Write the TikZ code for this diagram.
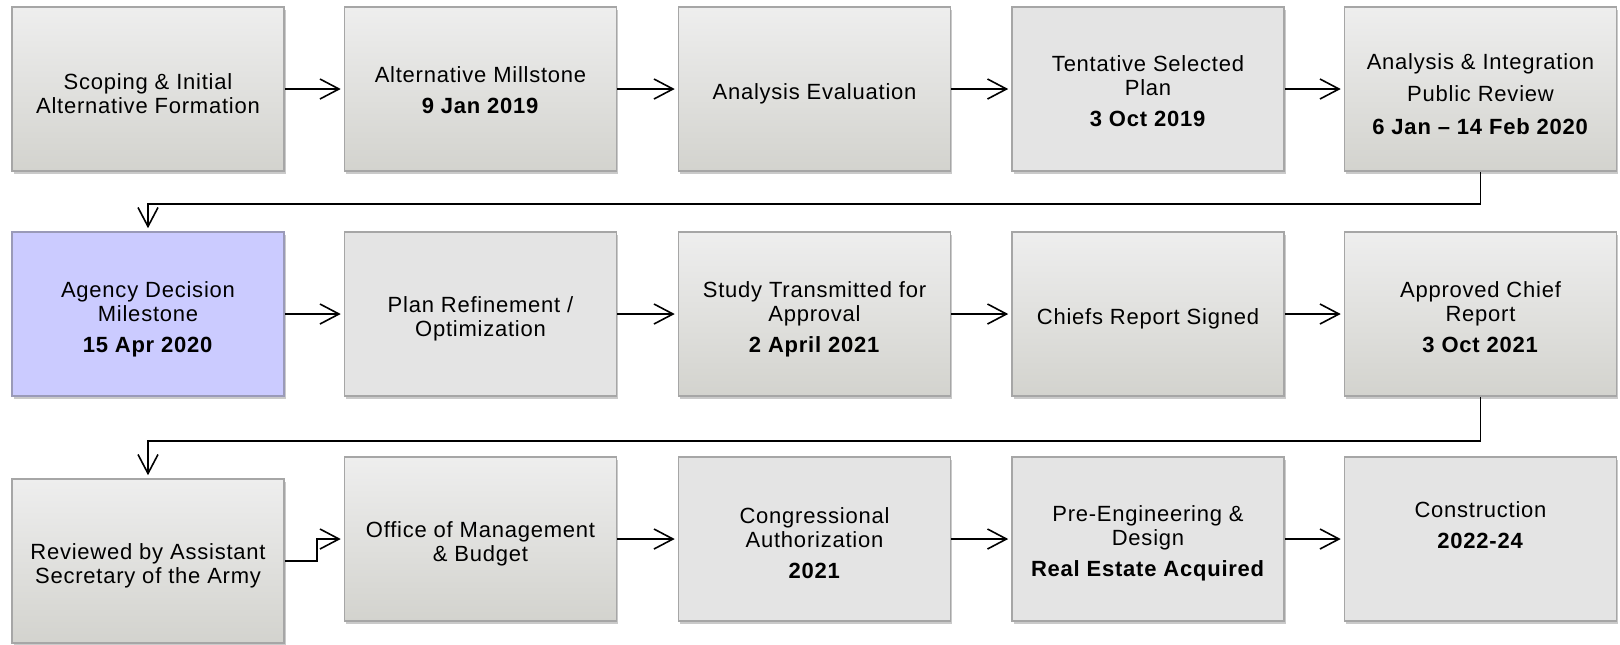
\documentclass[tikz,border=0pt]{standalone}
\usepackage{fontspec}
\setmainfont{Liberation Sans}[LetterSpace=3.5]
\usetikzlibrary{arrows.meta,shadows}
\definecolor{gtop}{HTML}{EEEEEE}
\definecolor{gbot}{HTML}{D3D3CE}
\definecolor{flatc}{HTML}{E4E4E4}
\definecolor{bord}{HTML}{A6A6A6}
\definecolor{lav}{HTML}{CBCBFF}
\definecolor{lavbord}{HTML}{9A9AB8}
\tikzset{
  box/.style={draw=bord, line width=0.8pt, minimum width=136pt, minimum height=82pt,
    inner sep=0pt,
    drop shadow={shadow xshift=0.8pt, shadow yshift=-1.5pt, opacity=0.35, fill=black!60}},
  gradbox/.style={box, top color=gtop, bottom color=gbot},
  flatbox/.style={box, fill=flatc},
  lavbox/.style={box, fill=lav, draw=lavbord},
  lab/.style={align=center, inner sep=0pt, font=\fontsize{11}{12}\selectfont},
  conn/.style={-{Straight Barb[length=9.5pt,width=10pt,line width=0.8pt]}, line width=0.8pt, shorten >=1.5pt}
}
\begin{document}
\begin{tikzpicture}[x=0.5pt,y=-0.5pt]
\useasboundingbox (0,0) rectangle (1620,644);
% row 1 boxes
\node[gradbox] (a1) at (148,89) {};
\node[gradbox] (a2) at (480.5,89) {};
\node[gradbox] (a3) at (814.5,89) {};
\node[flatbox] (a4) at (1148,89) {};
\node[gradbox] (a5) at (1480.5,89) {};
% row 2 boxes
\node[lavbox] (b1) at (148,314) {};
\node[flatbox] (b2) at (480.5,314) {};
\node[gradbox] (b3) at (814.5,314) {};
\node[gradbox] (b4) at (1148,314) {};
\node[gradbox] (b5) at (1480.5,314) {};
% row 3 boxes
\node[gradbox] (c1) at (148,561) {};
\node[gradbox] (c2) at (480.5,539) {};
\node[flatbox] (c3) at (814.5,539) {};
\node[flatbox] (c4) at (1148,539) {};
\node[flatbox] (c5) at (1480.5,539) {};
% texts
\node[lab] (a1t) at ([yshift=-2.5pt]a1.center) {Scoping \& Initial\\Alternative Formation};
\node[lab] (a2t) at ([yshift=-0.5pt]a2.center) {Alternative Millstone\\[3.5pt]\textbf{9 Jan 2019}};
\node[lab] (a3t) at ([yshift=-2.5pt]a3.center) {Analysis Evaluation};
\node[lab] (a4t) at ([yshift=-1pt]a4.center) {Tentative Selected\\Plan\\[3.5pt]\textbf{3 Oct 2019}};
\node[lab] (a5t) at ([yshift=-2.5pt]a5.center) {Analysis \& Integration\\[4pt]Public Review\\[4.5pt]\textbf{6 Jan -- 14 Feb 2020}};
\node[lab] (b1t) at ([yshift=-2.5pt]b1.center) {Agency Decision\\Milestone\\[3.5pt]\textbf{15 Apr 2020}};
\node[lab] (b2t) at ([yshift=-2.5pt]b2.center) {Plan Refinement /\\Optimization};
\node[lab] (b3t) at ([yshift=-2.5pt]b3.center) {Study Transmitted for\\Approval\\[3.5pt]\textbf{2 April 2021}};
\node[lab] (b4t) at ([yshift=-2.5pt]b4.center) {Chiefs Report Signed};
\node[lab] (b5t) at ([yshift=-1.5pt]b5.center) {Approved Chief\\Report\\[3.5pt]\textbf{3 Oct 2021}};
\node[lab] (c1t) at ([yshift=-2.5pt]c1.center) {Reviewed by Assistant\\Secretary of the Army};
\node[lab] (c2t) at ([yshift=-2.5pt]c2.center) {Office of Management\\\& Budget};
\node[lab] (c3t) at ([yshift=-2pt]c3.center) {Congressional\\Authorization\\[3.5pt]\textbf{2021}};
\node[lab] (c4t) at ([yshift=-2pt]c4.center) {Pre-Engineering \&\\Design\\[3.5pt]\textbf{Real Estate Acquired}};
\node[lab] (c5t) at ([yshift=7pt]c5.center) {Construction\\[3.5pt]\textbf{2022-24}};
% connectors
\draw[conn] (a1) -- (a2);
\draw[conn] (a2) -- (a3);
\draw[conn] (a3) -- (a4);
\draw[conn] (a4) -- (a5);
\draw[conn] (a5.south) -- ++(0,32) -| (b1.north);
\draw[conn] (b1) -- (b2);
\draw[conn] (b2) -- (b3);
\draw[conn] (b3) -- (b4);
\draw[conn] (b4) -- (b5);
\draw[conn] (b5.south) -- ++(0,44) -| (c1.north);
\draw[conn] (c1.east) -- ++(32,0) |- (c2.west);
\draw[conn] (c2) -- (c3);
\draw[conn] (c3) -- (c4);
\draw[conn] (c4) -- (c5);
\end{tikzpicture}
\end{document}
